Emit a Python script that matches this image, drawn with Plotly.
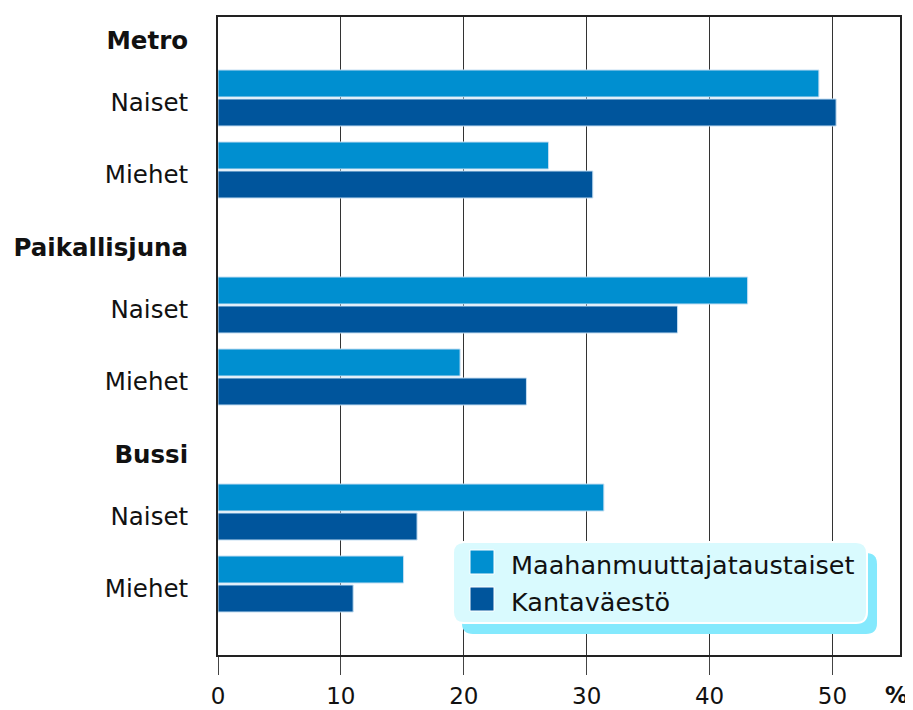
import plotly.graph_objects as go

# ---- data ----
groups = ["Metro", "Paikallisjuna", "Bussi"]
subcats = ["Naiset", "Miehet"]
series_names = ["Maahanmuuttajataustaiset", "Kantaväestö"]
maahanmuuttajat = [48.9, 26.9, 43.1, 19.7, 31.4, 15.1]   # Metro N, M, Paikallisjuna N, M, Bussi N, M
kantavaesto = [50.3, 30.5, 37.4, 25.1, 16.2, 11.0]
x_ticks = [0, 10, 20, 30, 40, 50]

# ---- layout constants (page pixels; the page body adds an 8px offset) ----
OX, OY = 8, 8
W, H = 913 - OX, 710 - OY
L, R, T, B = 218, 900, 17, 655          # plot area in page pixels
header_pos = [40, 247, 454]             # row positions (axis units = px-like)
row_gap = [62, 134]                     # header -> Naiset, header -> Miehet
COL_LIGHT = "#008fd0"
COL_DARK = "#00559c"
FONT = "DejaVu Sans"

bar_rows, tickvals, ticktext = [], [], []
for g, hp in zip(groups, header_pos):
    tickvals.append(hp)
    ticktext.append(f"<b>{g}</b>")
    for s, d in zip(subcats, row_gap):
        bar_rows.append(hp + d)
        tickvals.append(hp + d)
        ticktext.append(s)

fig = go.Figure()
for name, vals, col, off in [(series_names[0], maahanmuuttajat, COL_LIGHT, -32),
                             (series_names[1], kantavaesto, COL_DARK, -3)]:
    fig.add_trace(go.Bar(
        x=vals, y=bar_rows, orientation="h", name=name,
        width=27, offset=off,
        marker=dict(color=col, line=dict(color="#c4def2", width=1)),
        showlegend=False, hoverinfo="x+name",
    ))


def px2p(x, y):
    return (x - L) / (R - L), (B - y) / (B - T)


def rrect(x0, y0, x1, y1, r):
    def P(x, y):
        a, b = px2p(x, y)
        return f"{a:.5f},{b:.5f}"
    return (f"M{P(x0 + r, y0)} L{P(x1 - r, y0)} Q{P(x1, y0)} {P(x1, y0 + r)} "
            f"L{P(x1, y1 - r)} Q{P(x1, y1)} {P(x1 - r, y1)} L{P(x0 + r, y1)} "
            f"Q{P(x0, y1)} {P(x0, y1 - r)} L{P(x0, y0 + r)} Q{P(x0, y0)} {P(x0 + r, y0)} Z")


shapes = [
    dict(type="path", xref="paper", yref="paper", path=rrect(462, 553, 877, 634, 11),
         fillcolor="#84e9fd", line=dict(width=0), layer="above"),
    dict(type="path", xref="paper", yref="paper", path=rrect(453, 542, 867, 623, 11),
         fillcolor="#d9fafe", line=dict(color="white", width=2), layer="above"),
]
annotations = []
for i, (name, col) in enumerate(zip(series_names, [COL_LIGHT, COL_DARK])):
    yc = 562 + i * 37
    a0 = px2p(470, yc - 12)
    a1 = px2p(494, yc + 12)
    shapes.append(dict(type="rect", xref="paper", yref="paper", x0=a0[0], x1=a1[0],
                       y0=a1[1], y1=a0[1], fillcolor=col,
                       line=dict(color="white", width=1), layer="above"))
    tx, ty = px2p(509, yc + 3)
    annotations.append(dict(xref="paper", yref="paper", x=tx, y=ty, text=name,
                            showarrow=False, xanchor="left", yanchor="middle",
                            font=dict(family=FONT, size=25.5, color="#111")))

px_, py_ = px2p(896, 695)
annotations.append(dict(xref="paper", yref="paper", x=px_, y=py_, text="<b>%</b>",
                        showarrow=False, xanchor="center", yanchor="middle",
                        font=dict(family=FONT, size=23, color="#111")))

fig.update_layout(
    width=W, height=H,
    margin=dict(l=L - OX, r=913 - R, t=T - OY, b=710 - B, pad=0, autoexpand=False),
    paper_bgcolor="white", plot_bgcolor="white",
    barmode="overlay",
    font=dict(family=FONT, size=24, color="#111"),
    shapes=shapes, annotations=annotations,
    showlegend=False,
)
fig.update_xaxes(
    range=[0, 55.5], tickvals=x_ticks, ticktext=[str(v) for v in x_ticks],
    showgrid=True, gridcolor="#333", gridwidth=1, zeroline=False,
    showline=True, linecolor="#222", linewidth=1.5, mirror=True,
    ticks="outside", ticklen=18, tickcolor="#444", tickwidth=1,
    tickfont=dict(size=23), ticklabelstandoff=2, automargin=False,
)
fig.update_yaxes(
    range=[B, T], tickvals=tickvals, ticktext=ticktext,
    showgrid=False, zeroline=False,
    showline=True, linecolor="#222", linewidth=2, mirror=True,
    ticks="", tickfont=dict(size=24.5), ticklabelstandoff=23, automargin=False,
)

fig.write_html("out.html")
